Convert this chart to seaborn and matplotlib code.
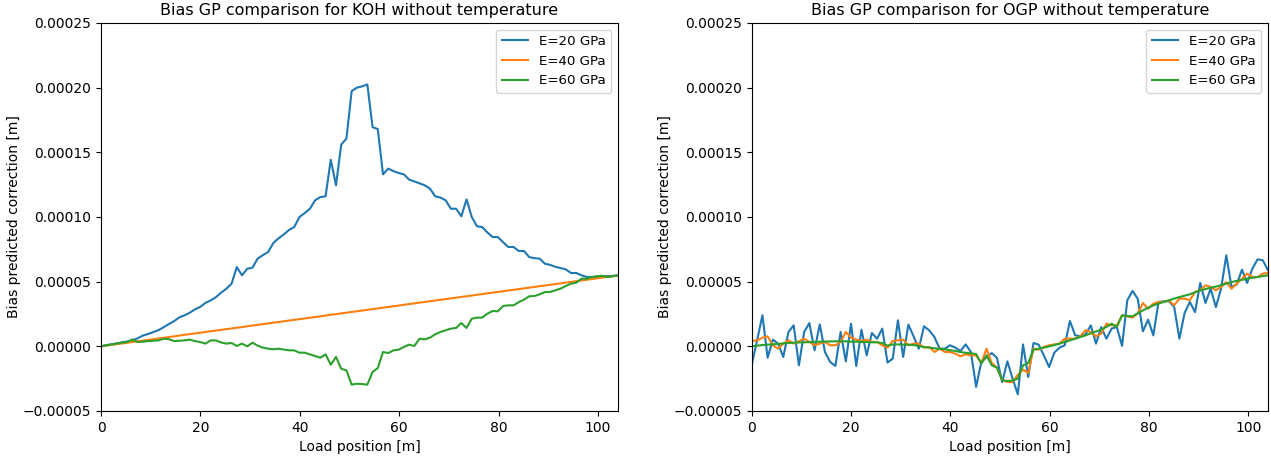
import numpy as np
import pandas as pd
import matplotlib
matplotlib.use("Agg")
import matplotlib.pyplot as plt
import seaborn as sns

# Load positions (100 samples between 0 and 104 m)
load_pos = np.linspace(0, 104, 100)
series_names = ["E=20 GPa", "E=40 GPa", "E=60 GPa"]
titles = ["Bias GP comparison for KOH without temperature",
          "Bias GP comparison for OGP without temperature"]

# Values in micrometres (1e-6 m)
koh_e20 = [0, 0.8, 1.6, 2.3, 3.0, 3.8, 4.6, 6.2, 8.3, 9.5,
           11.0, 12.5, 14.8, 17.2, 19.5, 22.4, 24.0, 26.0, 28.6, 30.5,
           33.6, 35.5, 38.0, 41.5, 44.5, 48.4, 61.3, 54.9, 60.0, 60.8,
           67.8, 70.5, 72.9, 79.9, 83.5, 86.5, 90.0, 92.2, 100.0, 103.0,
           106.4, 112.9, 115.4, 116.0, 144.3, 124.5, 156.0, 160.6, 197.4, 200.0,
           201.0, 202.5, 169.5, 168.0, 133.0, 137.4, 135.5, 134.0, 133.0, 128.9,
           127.5, 126.0, 124.5, 121.9, 116.0, 115.0, 112.9, 106.4, 106.4, 100.5,
           113.6, 100.0, 92.8, 92.2, 88.0, 84.5, 84.5, 80.5, 76.8, 76.8,
           73.7, 73.7, 69.0, 68.2, 67.8, 63.9, 63.0, 61.5, 60.5, 59.5,
           56.7, 56.7, 55.0, 53.6, 53.6, 54.0, 54.0, 54.3, 54.5, 54.8]
koh_e40 = [0.0, 0.6, 1.1, 1.7, 2.2, 2.8, 3.3, 3.9, 4.4, 5.0,
           5.5, 6.1, 6.6, 7.2, 7.7, 8.3, 8.9, 9.4, 10.0, 10.5,
           11.1, 11.6, 12.2, 12.7, 13.3, 13.8, 14.4, 14.9, 15.5, 16.1,
           16.6, 17.2, 17.7, 18.3, 18.8, 19.4, 19.9, 20.5, 21.0, 21.6,
           22.1, 22.7, 23.2, 23.8, 24.4, 24.9, 25.5, 26.0, 26.6, 27.1,
           27.7, 28.2, 28.8, 29.3, 29.9, 30.4, 31.0, 31.5, 32.1, 32.7,
           33.2, 33.8, 34.3, 34.9, 35.4, 36.0, 36.5, 37.1, 37.6, 38.2,
           38.7, 39.3, 39.9, 40.4, 41.0, 41.5, 42.1, 42.6, 43.2, 43.7,
           44.3, 44.8, 45.4, 45.9, 46.5, 47.0, 47.6, 48.2, 48.7, 49.3,
           49.8, 50.4, 50.9, 51.5, 52.0, 52.6, 53.1, 53.7, 54.2, 54.8]
koh_e60 = [0.0, 0.8, 1.5, 2.0, 3.0, 3.2, 5.4, 3.3, 3.6, 4.1,
           4.3, 4.6, 5.9, 5.5, 4.1, 4.3, 4.6, 5.2, 4.0, 3.3,
           2.1, 4.6, 4.6, 3.0, 2.1, 2.6, 0.3, 2.1, 0.0, 2.8,
           0.5, -1.0, -1.8, -2.3, -1.8, -2.5, -3.1, -3.1, -4.9, -4.9,
           -6.2, -7.5, -8.8, -6.2, -14.2, -8.2, -17.3, -18.6, -29.6, -28.9,
           -29.2, -29.6, -19.8, -16.8, -4.4, -5.2, -3.1, -2.6, -0.5, 1.3,
           0.3, 5.9, 5.4, 6.7, 9.3, 11.1, 12.4, 13.7, 14.2, 18.0,
           14.2, 21.4, 22.2, 22.2, 25.3, 27.3, 27.1, 31.2, 31.7, 31.7,
           34.2, 36.1, 38.7, 38.9, 40.2, 42.0, 42.0, 43.3, 44.6, 46.6,
           48.5, 49.2, 52.3, 52.3, 53.6, 54.1, 54.6, 53.6, 54.2, 54.8]

ogp_e20 = [-13.4, 5.0, 24.0, -8.8, 5.2, 2.1, -8.2, 11.1, 16.2, -14.7,
           11.1, 18.0, -3.1, 17.0, -4.4, -12.1, -15.2, 11.1, -11.6, 17.5,
           -15.2, 12.9, -7.0, 10.3, 5.9, 13.7, -12.6, -9.5, 20.1, -8.2,
           16.8, 7.7, -1.8, 15.5, 12.4, 7.2, -1.8, -1.8, 0.8, -1.0,
           -3.6, 1.5, -4.4, -31.4, -12.1, -8.2, -5.2, -9.0, -27.6, -11.6,
           -25.0, -37.1, 1.5, -23.7, 2.6, 1.3, -7.0, -16.0, -4.9, -1.0,
           0.8, 19.6, 8.5, 7.7, 9.3, 16.2, 2.1, 14.9, 5.9, 13.7,
           14.9, 0.3, 35.6, 42.8, 36.9, 11.6, 20.6, 8.5, 34.3, 34.8,
           35.0, 30.4, 5.9, 25.8, 34.3, 26.5, 49.0, 33.5, 44.6, 30.4,
           44.6, 70.4, 45.9, 47.9, 59.3, 49.0, 60.0, 67.3, 66.5, 58.8]
ogp_e40 = [4.1, 4.6, 6.7, 7.7, 0.8, -1.8, 2.1, 4.6, 2.1, 3.9,
           5.9, 3.4, 0.8, 2.1, 3.4, 0.8, 0.8, 3.4, 11.1, 6.7,
           5.2, 4.1, 5.2, 3.4, 3.4, 0.8, -1.0, 4.1, 4.6, 5.2,
           0.8, 2.1, 2.1, -1.0, -0.5, -4.4, -1.8, -4.4, -4.4, -5.7,
           -7.7, -6.2, -7.0, -7.0, -12.9, -1.8, -12.9, -16.5, -25.8, -27.6,
           -27.6, -22.0, -18.0, -20.6, -1.8, -2.6, -0.5, 0.8, 1.5, 2.1,
           5.9, 5.9, 5.9, 7.7, 12.4, 11.1, 7.7, 9.8, 17.5, 16.2,
           16.2, 24.0, 23.2, 22.2, 25.3, 33.5, 29.1, 33.0, 34.3, 34.3,
           35.6, 31.7, 36.9, 36.9, 35.6, 42.0, 43.3, 47.2, 45.9, 43.3,
           45.9, 49.7, 44.6, 48.4, 52.3, 56.2, 53.6, 53.6, 56.2, 56.7]
ogp_e60 = [0.0, 0.5, 1.0, 1.3, 1.6, 1.8, 2.3, 2.6, 2.8, 3.0,
           3.1, 3.3, 3.4, 3.6, 3.7, 3.8, 3.9, 3.9, 3.9, 3.6,
           3.6, 3.4, 3.4, 3.1, 3.1, 2.6, 0.5, 1.5, 1.5, 1.3,
           1.3, 1.0, 0.3, -0.5, -1.0, -1.5, -2.0, -2.3, -3.0, -3.6,
           -4.4, -5.0, -5.4, -5.9, -13.4, -7.0, -14.7, -16.5, -26.3, -26.8,
           -26.5, -25.0, -14.7, -12.9, -2.6, -1.8, -1.0, 0.0, 1.0, 2.0,
           3.4, 4.6, 5.9, 7.2, 8.5, 10.0, 11.5, 12.9, 15.0, 17.5,
           14.9, 24.0, 23.5, 23.2, 25.5, 27.8, 29.8, 31.7, 33.0, 34.3,
           35.6, 36.9, 38.1, 39.2, 40.2, 41.8, 43.3, 44.3, 45.3, 46.2,
           47.2, 48.5, 49.7, 50.6, 51.4, 52.3, 53.0, 53.6, 54.3, 54.9]


def to_frame(series_list):
    frames = []
    for name, vals in zip(series_names, series_list):
        frames.append(pd.DataFrame({"x": load_pos,
                                    "y": np.asarray(vals) * 1e-6,
                                    "series": name}))
    return pd.concat(frames, ignore_index=True)


datasets = [to_frame([koh_e20, koh_e40, koh_e60]),
            to_frame([ogp_e20, ogp_e40, ogp_e60])]

palette = ["#1f77b4", "#ff7f0e", "#2ca02c"]

fig = plt.figure(figsize=(12.71, 4.57), dpi=100)
ax1 = fig.add_axes([101 / 1271, 1 - 411 / 457, 517 / 1271, 388 / 457])
ax2 = fig.add_axes([752 / 1271, 1 - 411 / 457, 516 / 1271, 388 / 457])

for ax, df, title in zip([ax1, ax2], datasets, titles):
    sns.lineplot(data=df, x="x", y="y", hue="series", hue_order=series_names,
                 palette=palette, ax=ax, linewidth=1.5, estimator=None, sort=False)
    ax.set_xlim(0, 104)
    ax.set_ylim(-0.00005, 0.00025)
    ax.set_yticks(np.arange(-0.00005, 0.000251, 0.00005))
    ax.set_title(title, fontsize=11.5)
    ax.set_xlabel("Load position [m]")
    ax.set_ylabel("Bias predicted correction [m]", labelpad=1)
    sns.move_legend(ax, "upper right", title=None, fontsize=9.6)

fig.savefig("out.png", dpi=100)
